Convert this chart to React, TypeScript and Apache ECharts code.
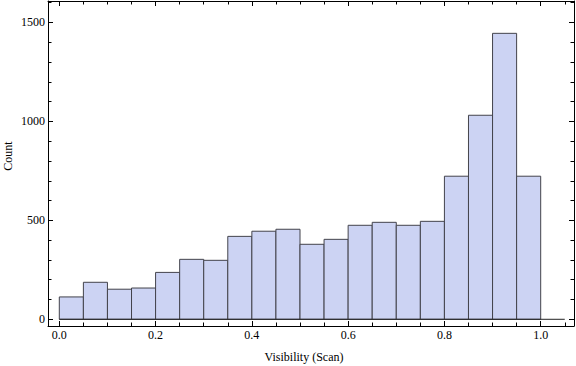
import React, { useEffect, useRef } from "react";
import * as echarts from "echarts";

// Histogram bins (left edges, width 0.05) and counts
const binStarts = [0, 0.05, 0.1, 0.15, 0.2, 0.25, 0.3, 0.35, 0.4, 0.45, 0.5, 0.55, 0.6, 0.65, 0.7, 0.75, 0.8, 0.85, 0.9, 0.95];
const binEnds = [0.05, 0.1, 0.15, 0.2, 0.25, 0.3, 0.35, 0.4, 0.45, 0.5, 0.55, 0.6, 0.65, 0.7, 0.75, 0.8, 0.85, 0.9, 0.95, 1.0];
const counts = [113, 187, 152, 158, 237, 303, 298, 419, 445, 455, 379, 404, 475, 490, 475, 495, 723, 1031, 1445, 723];
const baselineRange = [0, 1.05];
const xLabel = "Visibility (Scan)";
const yLabel = "Count";

const X_MIN = -0.0235;
const X_MAX = 1.0692;
const Y_MIN = -33.9;
const Y_MAX = 1608.4;

const FONT = "Liberation Serif";
const FILL = "rgb(204,211,243)";
const EDGE = "#43434b";

export default function App() {
  const ref = useRef<HTMLDivElement>(null);

  useEffect(() => {
    if (!ref.current) return;
    const chart = echarts.init(ref.current, undefined, { renderer: "svg" });

    const histData = binStarts.map((s, i) => [s, binEnds[i], counts[i]]);

    const xBase = (position: string, major: boolean, labels: boolean) => ({
      type: "value",
      position,
      min: X_MIN,
      max: X_MAX,
      minInterval: major ? 0.2 : 0.05,
      maxInterval: major ? 0.2 : 0.05,
      axisLine: { show: major, onZero: false, lineStyle: { color: "#000", width: 1 } },
      axisTick: { show: true, inside: true, length: major ? 5 : 3.5, lineStyle: { color: "#000", width: 1 } },
      axisLabel: {
        show: labels,
        showMinLabel: false,
        showMaxLabel: false,
        margin: 3,
        color: "#000",
        fontFamily: FONT,
        fontSize: 12,
        formatter: (v: number) => v.toFixed(1),
      },
      splitLine: { show: false },
    });

    const yBase = (position: string, major: boolean, labels: boolean) => ({
      type: "value",
      position,
      min: Y_MIN,
      max: Y_MAX,
      minInterval: major ? 500 : 100,
      maxInterval: major ? 500 : 100,
      axisLine: { show: major, onZero: false, lineStyle: { color: "#000", width: 1 } },
      axisTick: { show: true, inside: true, length: major ? 5 : 3.5, lineStyle: { color: "#000", width: 1 } },
      axisLabel: {
        show: labels,
        showMinLabel: false,
        showMaxLabel: false,
        margin: 3,
        color: "#000",
        fontFamily: FONT,
        fontSize: 12,
        formatter: (v: number) => String(Math.round(v)),
      },
      splitLine: { show: false },
    });

    chart.setOption({
      animation: false,
      backgroundColor: "#fff",
      grid: { left: 48, top: 1, width: 526, height: 325, containLabel: false },
      xAxis: [
        xBase("bottom", true, true),
        xBase("bottom", false, false),
        xBase("top", true, false),
        xBase("top", false, false),
      ],
      yAxis: [
        yBase("left", true, true),
        yBase("left", false, false),
        yBase("right", true, false),
        yBase("right", false, false),
      ],
      series: [
        {
          type: "custom",
          xAxisIndex: 0,
          yAxisIndex: 0,
          data: histData,
          encode: { x: [0, 1], y: 2 },
          renderItem: (params: any, api: any) => {
            const x0 = api.value(0);
            const x1 = api.value(1);
            const c = api.value(2);
            const p0 = api.coord([x0, 0]);
            const p1 = api.coord([x1, c]);
            return {
              type: "rect",
              shape: { x: p0[0], y: p1[1], width: p1[0] - p0[0], height: p0[1] - p1[1] },
              style: { fill: FILL, stroke: EDGE, lineWidth: 1 },
            };
          },
          z: 2,
        },
        {
          type: "line",
          xAxisIndex: 0,
          yAxisIndex: 0,
          data: [[baselineRange[0], 0], [baselineRange[1], 0]],
          symbol: "none",
          silent: true,
          lineStyle: { color: "#222", width: 1 },
          z: 3,
        },
      ],
      graphic: [
        {
          type: "text",
          x: 304,
          y: 357,
          style: {
            text: xLabel,
            fontFamily: FONT,
            fontSize: 12,
            fill: "#000",
            align: "center",
            verticalAlign: "middle",
          },
        },
        {
          type: "text",
          x: 8,
          y: 156,
          rotation: Math.PI / 2,
          style: {
            text: yLabel,
            fontFamily: FONT,
            fontSize: 12,
            fill: "#000",
            align: "center",
            verticalAlign: "middle",
          },
        },
      ],
    });

    return () => chart.dispose();
  }, []);

  return (
    <div
      ref={ref}
      style={{ position: "fixed", left: 0, top: 0, width: 576, height: 366, background: "#fff" }}
    />
  );
}
